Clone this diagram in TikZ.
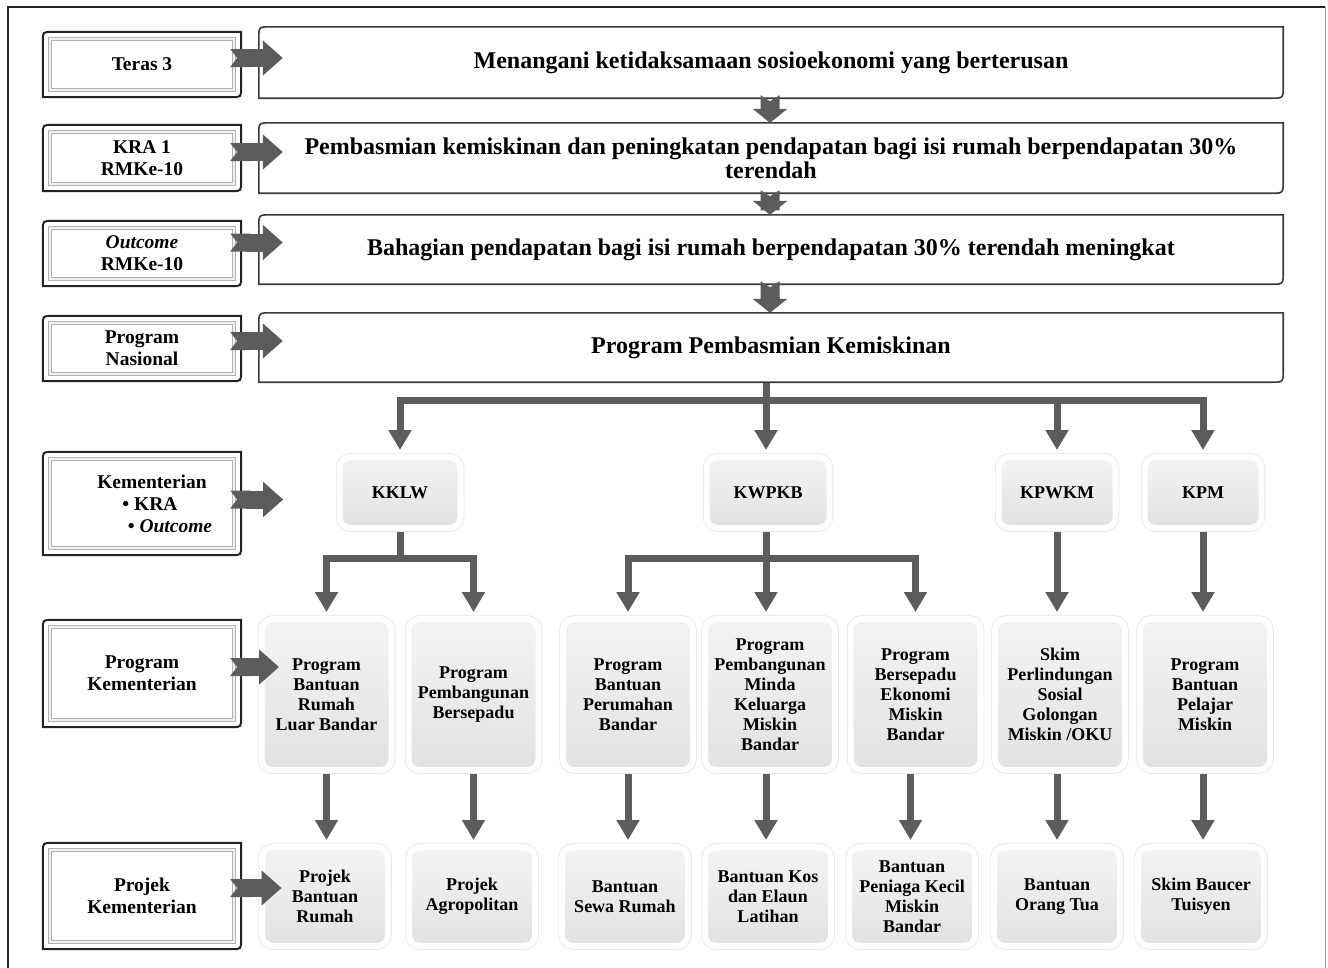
\documentclass[tikz,border=0pt]{standalone}
\usepackage{fontspec}
\setmainfont{Liberation Serif}
\usetikzlibrary{arrows.meta,backgrounds,calc}
\definecolor{arrgray}{RGB}{92,92,92}
\definecolor{frameblk}{RGB}{35,35,35}
\tikzset{
  mainbox/.style={minimum width=1024pt, font=\fontsize{24}{24}\selectfont\bfseries, align=center, inner sep=0pt},
  labbox/.style={minimum width=198pt, font=\fontsize{19.5}{22}\selectfont\bfseries, align=center, inner sep=0pt},
  gbox/.style={rounded corners=11pt, top color=gray!9, bottom color=gray!23, draw=white, line width=6pt,
     preaction={draw=gray!20, line width=7.5pt}, font=\fontsize{18}{20}\selectfont\bfseries, align=center, inner sep=0pt},
  kbox/.style={gbox, minimum height=71pt},
  pbox/.style={gbox, minimum width=130pt, minimum height=151pt},
  qbox/.style={gbox, minimum width=126pt, minimum height=99pt},
  busline/.style={draw=arrgray, line width=7pt},
  conn/.style={draw=arrgray, line width=7pt, -{Triangle[width=22pt,length=20pt]}},
  blk/.style={draw=arrgray, line width=18pt, {Triangle Cap[reversed,length=7pt]}-{Triangle[width=34pt,length=20pt]}},
  dblk/.style={draw=arrgray, line width=19pt, {Triangle Cap[reversed,length=6pt]}-{Triangle[width=34pt,length=14pt]}},
}
\newcommand\labframe[1]{%
  \draw[line width=2pt, frameblk] ([yshift=-10pt]#1.north west) -- (#1.south west) -- ([xshift=-10pt]#1.south east)
     .. controls (#1.south east) .. ([yshift=10pt]#1.south east) -- (#1.north east) -- ([xshift=10pt]#1.north west)
     .. controls (#1.north west) .. ([yshift=-10pt]#1.north west) -- cycle;
  \draw[gray!60, line width=0.8pt, double=gray!12, double distance=2.4pt]
     ([xshift=7pt,yshift=-7pt]#1.north west) rectangle ([xshift=-7pt,yshift=7pt]#1.south east);}
\newcommand\mainframe[1]{%
  \draw[line width=1.6pt, gray!45!black] ([yshift=-12pt]#1.north west) -- (#1.south west) -- ([xshift=-12pt]#1.south east)
     .. controls (#1.south east) .. ([yshift=12pt]#1.south east) -- (#1.north east) -- ([xshift=12pt]#1.north west)
     .. controls (#1.north west) .. ([yshift=-12pt]#1.north west) -- cycle;}
\begin{document}
\begin{tikzpicture}[x=1pt,y=-1pt]
\useasboundingbox (0,0) rectangle (1328,967);
\draw[frameblk, line width=1.8pt] (1325,7) -- (8,7) -- (8,1000);
\draw[gray!80, line width=1pt] (1325,7) -- (1325,1000);

% left labels
\node[labbox, minimum height=65pt] (l1) at (142,64.5) {Teras 3};
\node[labbox, minimum height=66pt] (l2) at (142,158) {KRA 1\\RMKe-10};
\node[labbox, minimum height=65pt] (l3) at (142,253.5) {\textit{Outcome}\\RMKe-10};
\node[labbox, minimum height=65pt] (l4) at (142,348.5) {Program\\Nasional};
\node[labbox, minimum height=103pt] (l5) at (142,503.5) {\hspace*{20pt}Kementerian\\\hspace*{16pt}• KRA\\\hspace*{56pt}• \textit{Outcome}};
\node[labbox, minimum height=107pt] (l6) at (142,673.5) {Program\\Kementerian};
\node[labbox, minimum height=106pt] (l7) at (142,896) {Projek\\Kementerian};
\labframe{l1}\labframe{l2}\labframe{l3}\labframe{l4}\labframe{l5}\labframe{l6}\labframe{l7}

% main boxes
\node[mainbox, minimum height=71pt] (m1) at (771,62.5) {Menangani ketidaksamaan sosioekonomi yang berterusan};
\node[mainbox, minimum height=70pt] (m2) at (771,158) {Pembasmian kemiskinan dan peningkatan pendapatan bagi isi rumah berpendapatan 30\%\\terendah};
\node[mainbox, minimum height=69pt] (m3) at (771,249.5) {Bahagian pendapatan bagi isi rumah berpendapatan 30\% terendah meningkat};
\node[mainbox, minimum height=69pt] (m4) at (771,347.5) {Program Pembasmian Kemiskinan};
\mainframe{m1}\mainframe{m2}\mainframe{m3}\mainframe{m4}

% ministries
\node[kbox, minimum width=121pt] (kklw) at (400,492.5) {KKLW};
\node[kbox, minimum width=123pt] (kwpkb) at (768,492.5) {KWPKB};
\node[kbox, minimum width=117pt] (kpwkm) at (1057,492.5) {KPWKM};
\node[kbox, minimum width=117pt] (kpm) at (1203,492.5) {KPM};

% programmes
\node[pbox] (p1) at (326.5,694.5) {Program\\Bantuan\\Rumah\\Luar Bandar};
\node[pbox] (p2) at (473.5,694.5) {Program\\Pembangunan\\Bersepadu};
\node[pbox] (p3) at (628,694.5) {Program\\Bantuan\\Perumahan\\Bandar};
\node[pbox] (p4) at (770,694.5) {Program\\Pembangunan\\Minda\\Keluarga\\Miskin\\Bandar};
\node[pbox] (p5) at (915.5,694.5) {Program\\Bersepadu\\Ekonomi\\Miskin\\Bandar};
\node[pbox] (p6) at (1060,694.5) {Skim\\Perlindungan\\Sosial\\Golongan\\Miskin /OKU};
\node[pbox] (p7) at (1205,694.5) {Program\\Bantuan\\Pelajar\\Miskin};

% projects
\node[qbox] (q1) at (325,896.5) {Projek\\Bantuan\\Rumah};
\node[qbox] (q2) at (472,896.5) {Projek\\Agropolitan};
\node[qbox] (q3) at (625,896.5) {Bantuan\\Sewa Rumah};
\node[qbox] (q4) at (768,896.5) {Bantuan Kos\\dan Elaun\\Latihan};
\node[qbox] (q5) at (912,896.5) {Bantuan\\Peniaga Kecil\\Miskin\\Bandar};
\node[qbox] (q6) at (1057,896.5) {Bantuan\\Orang Tua};
\node[qbox] (q7) at (1201,896.5) {Skim Baucer\\Tuisyen};

% connectors
\begin{pgfonlayer}{background}
\coordinate (bus) at (766,400);
\draw[busline] ([xshift=-5pt]m4.south) -- (bus);
\draw[conn] (bus) -| ([yshift=4pt]kklw.north);
\draw[conn] (bus) -| ([yshift=4pt]kpm.north);
\draw[conn] (bus) -- ([yshift=4pt]bus |- kwpkb.north);
\draw[conn] (bus -| kpwkm.north) -- ([yshift=4pt]kpwkm.north);

\coordinate (ka) at (400,558);
\draw[busline] (kklw.south) -- (ka);
\draw[conn] (ka) -| ([yshift=4pt]p1.north);
\draw[conn] (ka) -| ([yshift=4pt]p2.north);

\coordinate (kb) at (766,558);
\draw[busline] ([xshift=-2pt]kwpkb.south) -- (kb);
\draw[conn] (kb) -| ([yshift=4pt]p3.north);
\draw[conn] (kb) -| ([yshift=4pt]p5.north);
\draw[conn] (kb) -- ([yshift=4pt]kb |- p4.north);

\draw[conn] (kpwkm.south) -- ([yshift=4pt]kpwkm.south |- p6.north);
\draw[conn] (kpm.south) -- ([yshift=4pt]kpm.south |- p7.north);

\draw[conn] (p1.south) -- ([yshift=4pt]p1.south |- q1.north);
\draw[conn] (p2.south) -- ([yshift=4pt]p2.south |- q2.north);
\draw[conn] (p3.south) -- ([yshift=4pt]p3.south |- q3.north);
\draw[conn] ([xshift=-4pt]p4.south) -- ([xshift=-4pt,yshift=4pt]p4.south |- q4.north);
\draw[conn] ([xshift=-5pt]p5.south) -- ([xshift=-5pt,yshift=4pt]p5.south |- q5.north);
\draw[conn] ([xshift=-3pt]p6.south) -- ([xshift=-3pt,yshift=4pt]p6.south |- q6.north);
\draw[conn] ([xshift=-2pt]p7.south) -- ([xshift=-2pt,yshift=4pt]p7.south |- q7.north);
\end{pgfonlayer}

% block arrows from labels
\draw[blk] ([xshift=-11pt,yshift=6.5pt]l1.east) -- ([xshift=24pt,yshift=6.5pt]l1.east -| m1.west);
\draw[blk] ([xshift=-11pt,yshift=6pt]l2.east) -- ([xshift=24pt,yshift=6pt]l2.east -| m2.west);
\draw[blk] ([xshift=-11pt,yshift=11pt]l3.east) -- ([xshift=24pt,yshift=11pt]l3.east -| m3.west);
\draw[blk] ([xshift=-11pt,yshift=7.5pt]l4.east) -- ([xshift=24pt,yshift=7.5pt]l4.east -| m4.west);
\draw[blk] ([xshift=-11pt,yshift=4pt]l5.east) -- ([xshift=42pt,yshift=4pt]l5.east);
\draw[blk] ([xshift=-11pt,yshift=6.5pt]l6.east) -- ([xshift=20.5pt,yshift=6.5pt]l6.east -| p1.west);
\draw[blk] ([xshift=-11pt,yshift=8pt]l7.east) -- ([xshift=22.5pt,yshift=8pt]l7.east -| q1.west);

% block arrows between main boxes
\draw[dblk] ([xshift=-1pt,yshift=3pt]m1.south) -- ([xshift=-1pt]m1.south |- m2.north);
\draw[dblk] ([xshift=-1pt,yshift=3pt]m2.south) -- ([xshift=-1pt]m2.south |- m3.north);
\draw[dblk] ([xshift=-1pt,yshift=3pt]m3.south) -- ([xshift=-1pt]m3.south |- m4.north);
\end{tikzpicture}
\end{document}
